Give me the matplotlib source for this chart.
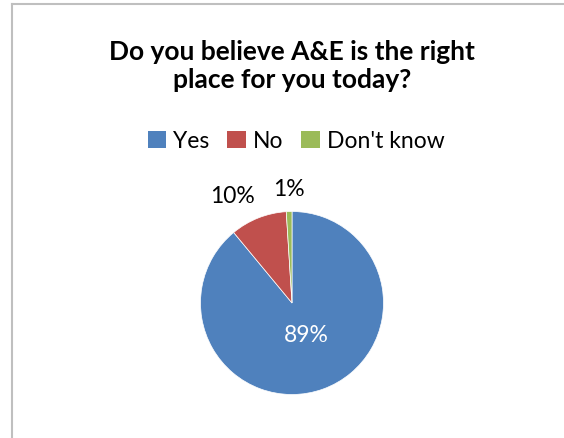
import matplotlib
matplotlib.use("Agg")
import matplotlib.pyplot as plt
from matplotlib.patches import Patch
from matplotlib.lines import Line2D

categories = ["Yes", "No", "Don't know"]
values = [89, 10, 1]
labels = ["89%", "10%", "1%"]
colors = ["#4F81BD", "#C0504D", "#9BBB59"]
title = "Do you believe A&E is the right\nplace for you today?"

plt.rcParams['font.family'] = ['Lato', 'DejaVu Sans']

W, H = 564, 439
fig = plt.figure(figsize=(W / 100, H / 100), dpi=100)
fig.patch.set_facecolor("white")

# border
fig.add_artist(Line2D([12 / W, 12 / W], [0, 1 - 5 / H], transform=fig.transFigure, color="#BFBFBF", lw=1.5))
fig.add_artist(Line2D([12 / W, 1], [1 - 5 / H, 1 - 5 / H], transform=fig.transFigure, color="#BFBFBF", lw=1.5))

cx, cy, r = 292, 304, 91.5
ax = fig.add_axes([(cx - r) / W, 1 - (cy + r) / H, 2 * r / W, 2 * r / H])
wedges, _ = ax.pie(values, colors=colors, startangle=90, counterclock=False,
                   wedgeprops=dict(edgecolor="white", linewidth=0.5), radius=1)
ax.set_xlim(-1, 1)
ax.set_ylim(-1, 1)
ax.set_aspect("equal")
ax.axis("off")

label_pos = [(0.16, -0.34), (-0.645, 1.17), (-0.03, 1.25)]
label_col = ["white", "#000000", "#000000"]
for (x, y), t, c in zip(label_pos, labels, label_col):
    ax.text(x, y, t, ha="center", va="center", fontsize=16.5, color=c, clip_on=False)

fig.text(cx / W, 1 - 66 / H, title, ha="center", va="center", fontsize=19,
         fontweight="bold", linespacing=1.25, color="#000000")

handles = [Patch(facecolor=c, edgecolor="none") for c in colors]
fig.legend(handles, categories, loc="center", bbox_to_anchor=(296 / W, 1 - 142 / H),
           ncol=3, frameon=False, fontsize=16.5, handlelength=0.8, handleheight=0.8,
           handletextpad=0.3, columnspacing=0.8)

fig.savefig("out.png", dpi=100, facecolor="white")
